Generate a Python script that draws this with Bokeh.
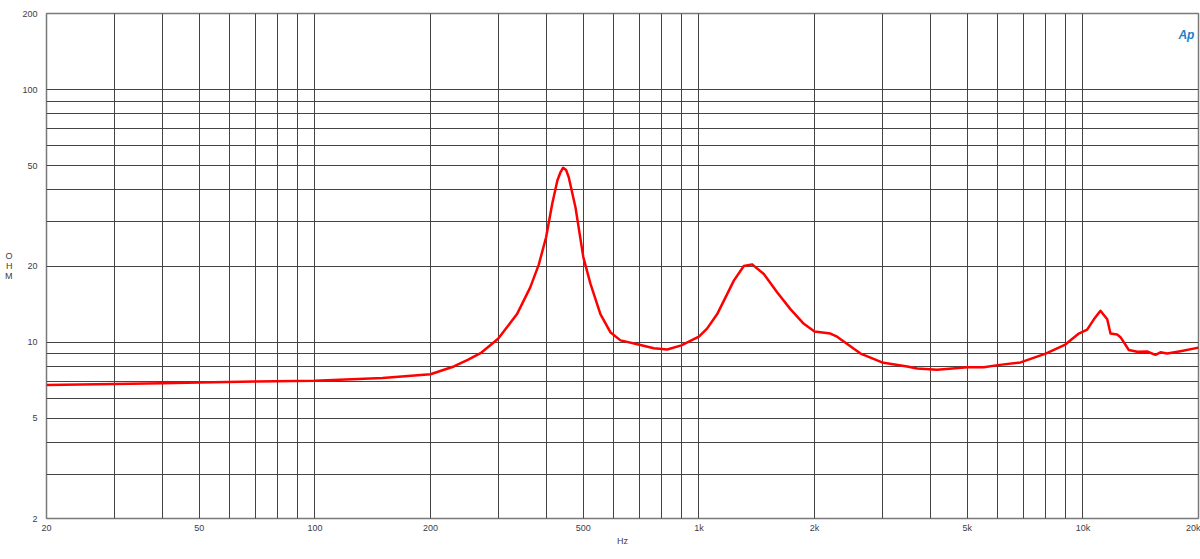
from bokeh.plotting import figure
from bokeh.models import FixedTicker, Label, ColumnDataSource
from bokeh.embed import file_html
from bokeh.resources import INLINE

# ---- data ----
freq_hz = [20, 30, 40, 50, 70, 100, 150, 200, 230, 250, 270, 300, 336, 364, 383, 400,
           415, 428, 436, 443, 451, 458, 477, 500, 522, 554, 589, 625, 700, 763, 827,
           900, 1000, 1050, 1116, 1233, 1309, 1376, 1476, 1600, 1731, 1876, 2000, 2200,
           2290, 2636, 3000, 3486, 3702, 4174, 5000, 5520, 6000, 6880, 8000, 9000,
           9757, 10260, 10680, 11110, 11570, 11800, 12280, 12530, 13170, 13850, 14700,
           15450, 15920, 16570, 17950, 20000]
impedance_ohm = [6.75, 6.82, 6.87, 6.92, 6.98, 7.03, 7.2, 7.45, 8.0, 8.5, 9.03, 10.3,
                 12.9, 16.5, 20.3, 26.0, 35.3, 43.6, 47.0, 49.0, 48.0, 45.0, 34.2, 21.7,
                 17.0, 12.9, 10.9, 10.15, 9.75, 9.45, 9.34, 9.7, 10.5, 11.3, 12.9, 17.5,
                 20.0, 20.3, 18.6, 15.7, 13.5, 11.8, 11.0, 10.8, 10.5, 9.0, 8.3, 8.0,
                 7.85, 7.76, 7.95, 7.95, 8.1, 8.3, 9.0, 9.77, 10.8, 11.2, 12.3, 13.3,
                 12.3, 10.8, 10.7, 10.45, 9.3, 9.15, 9.17, 8.9, 9.1, 9.0, 9.2, 9.5]

x_label_ticks = [20, 50, 100, 200, 500, 1000, 2000, 5000, 10000, 20000]
x_label_text = ["20", "50", "100", "200", "500", "1k", "2k", "5k", "10k", "20k"]
y_label_ticks = [2, 5, 10, 20, 50, 100, 200]
y_label_text = ["2", "5", "10", "20", "50", "100", "200"]
x_grid_ticks = [20, 30, 40, 50, 60, 70, 80, 90, 100, 200, 300, 400, 500, 600, 700, 800,
                900, 1000, 2000, 3000, 4000, 5000, 6000, 7000, 8000, 9000, 10000, 20000]
y_grid_ticks = [2, 3, 4, 5, 6, 7, 8, 9, 10, 20, 30, 40, 50, 60, 70, 80, 90, 100, 200]

FONT = "Liberation Sans"
TXT = "#3c3c4a"

p = figure(width=1200, height=559, x_axis_type="log", y_axis_type="log",
           x_range=(20, 20000), y_range=(2, 200), output_backend="svg",
           toolbar_location=None, min_border_left=46, min_border_right=2,
           min_border_top=13, min_border_bottom=41)
p.background_fill_color = "white"
p.border_fill_color = "white"
p.outline_line_color = "#7a7a7a"
p.outline_line_width = 1.5

for ax, ticks, texts in ((p.xaxis[0], x_label_ticks, x_label_text),
                         (p.yaxis[0], y_label_ticks, y_label_text)):
    ax.ticker = FixedTicker(ticks=ticks)
    ax.major_label_overrides = {t: s for t, s in zip(ticks, texts)}
    ax.major_tick_line_color = None
    ax.minor_tick_line_color = None
    ax.axis_line_color = None
    ax.major_label_text_font = FONT
    ax.major_label_text_font_size = "9px"
    ax.major_label_text_color = TXT
    ax.axis_label_text_font = FONT
    ax.axis_label_text_font_size = "9px"
    ax.axis_label_text_font_style = "normal"
    ax.axis_label_text_color = TXT
p.xaxis.major_label_standoff = -2
p.yaxis.major_label_standoff = 3

p.xaxis.axis_label = "Hz"
p.xaxis.axis_label_standoff = 0

# stacked "OHM" y-axis title
yax = p.yaxis[0]
if "axis_label_orientation" in yax.properties():
    yax.axis_label = "O\nH\nM"
    yax.axis_label_orientation = "horizontal"
    yax.axis_label_text_line_height = 1.0
    yax.axis_label_text_align = "center"
    yax.axis_label_standoff = 7
else:
    yax.axis_label = "OHM"
    yax.axis_label_standoff = 7

p.xgrid.ticker = FixedTicker(ticks=x_grid_ticks)
p.ygrid.ticker = FixedTicker(ticks=y_grid_ticks)
for g in (p.xgrid, p.ygrid):
    g.grid_line_color = "#3a3a3a"
    g.grid_line_width = 1
    g.grid_line_alpha = 0.95

src = ColumnDataSource(dict(f=freq_hz, z=impedance_ohm))
p.line("f", "z", source=src, line_color="#ff0000", line_width=2.5,
       line_join="round")

# AP logo
p.add_layout(Label(x=18600, y=165, text="Ap", text_font=FONT, text_font_size="12px",
                   text_font_style="bold italic", text_color="#1f7fc9",
                   text_align="center", text_baseline="middle"))

open("out.html", "w").write(file_html(p, INLINE))
